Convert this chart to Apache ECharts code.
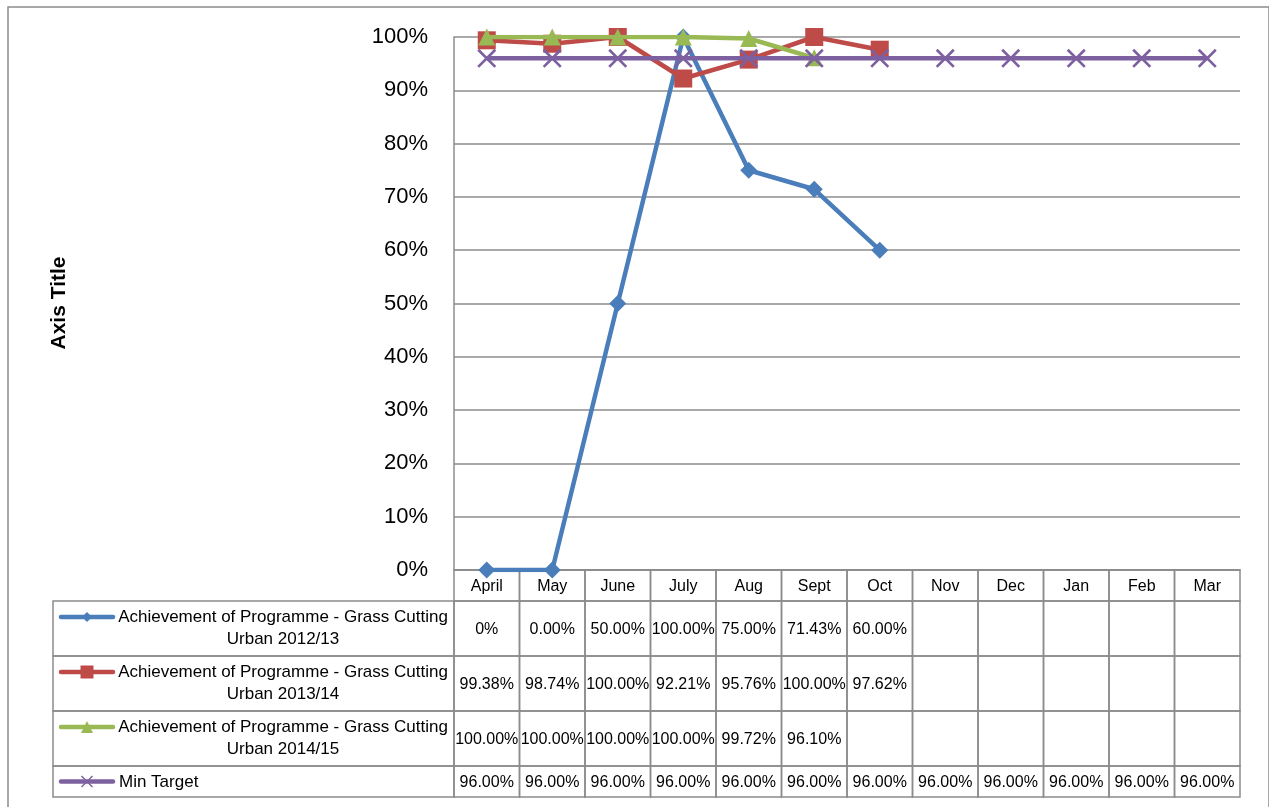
<!DOCTYPE html>
<html>
<head>
<meta charset="utf-8">
<script src="https://cdn.jsdelivr.net/npm/echarts@6/dist/echarts.min.js"></script>
<style>
  html, body { margin: 0; padding: 0; background: #fff; }
  #chart { width: 1269px; height: 807px; }
</style>
</head>
<body>
<div id="chart"></div>
<script>
// 月份
const months = ['April', 'May', 'June', 'July', 'Aug', 'Sept', 'Oct', 'Nov', 'Dec', 'Jan', 'Feb', 'Mar'];
// 各年度达成率
const urban1213 = [0, 0, 0.5, 1, 0.75, 0.7143, 0.6, null, null, null, null, null];
const urban1314 = [0.9938, 0.9874, 1, 0.9221, 0.9576, 1, 0.9762, null, null, null, null, null];
const urban1415 = [1, 1, 1, 1, 0.9972, 0.961, null, null, null, null, null, null];
const minTarget = [0.96, 0.96, 0.96, 0.96, 0.96, 0.96, 0.96, 0.96, 0.96, 0.96, 0.96, 0.96];
const yTicks = [0, 0.1, 0.2, 0.3, 0.4, 0.5, 0.6, 0.7, 0.8, 0.9, 1];

const seriesNames = [
    'Achievement of Programme - Grass Cutting\nUrban 2012/13',
    'Achievement of Programme - Grass Cutting\nUrban 2013/14',
    'Achievement of Programme - Grass Cutting\nUrban 2014/15',
    'Min Target'
];
const seriesData = [urban1213, urban1314, urban1415, minTarget];
const colors = ['#4A7EBB', '#BE4B48', '#98B954', '#7D60A0'];
const crossPath = 'path://M0,1L1,0L10,9L9,10ZM9,0L10,1L1,10L0,9Z';
const symbols = ['diamond', 'rect', 'triangle', crossPath];
const symbolSizes = [17, 18, 17, 19];

const FONT = 'Liberation Sans';
const GRID_L = 454, GRID_R = 1240, GRID_T = 37, GRID_B = 570;
const cellW = (GRID_R - GRID_L) / months.length;
const rowTops = [601, 656, 711, 766];
const rowHeights = [55, 55, 55, 31];
const LEG_L = 53;
const lineGray = '#8c8c8c';

// 表格里的文字格式，第一格原图就是 0%
function fmt(v, s, i) {
    if (v === null || v === undefined) return '';
    if (s === 0 && i === 0) return (v * 100).toFixed(0) + '%';
    return (v * 100).toFixed(2) + '%';
}

const graphics = [];
// 外框
graphics.push({
    type: 'rect', shape: { x: 8, y: 7, width: 1261, height: 820 },
    style: { fill: null, stroke: '#8c8c8c', lineWidth: 1.5 }, silent: true, z: 0
});
// 表头
months.forEach((m, i) => {
    graphics.push({
        type: 'rect', shape: { x: GRID_L + i * cellW, y: GRID_B, width: cellW, height: rowTops[0] - GRID_B },
        style: { fill: null, stroke: lineGray, lineWidth: 1.5 }, silent: true
    });
    graphics.push({
        type: 'text', x: GRID_L + (i + 0.5) * cellW, y: (GRID_B + rowTops[0]) / 2 + 1,
        style: { text: m, fill: '#000', font: '16px ' + FONT, align: 'center', verticalAlign: 'middle' }, silent: true
    });
});
// 数据行
seriesData.forEach((arr, s) => {
    const top = rowTops[s], h = rowHeights[s];
    graphics.push({
        type: 'rect', shape: { x: LEG_L, y: top, width: GRID_L - LEG_L, height: h },
        style: { fill: null, stroke: lineGray, lineWidth: 1.5 }, silent: true
    });
    const iconY = s === 3 ? top + h / 2 : top + 16;
    graphics.push({
        type: 'line', shape: { x1: 61, y1: iconY, x2: 113, y2: iconY },
        style: { stroke: colors[s], lineWidth: 4.5, lineCap: 'round' }, silent: true
    });
    const ms = [10, 13, 12, 11][s];
    if (s === 0) {
        graphics.push({ type: 'polygon', shape: { points: [[87, iconY - ms / 2], [87 + ms / 2, iconY], [87, iconY + ms / 2], [87 - ms / 2, iconY]] }, style: { fill: colors[s] }, silent: true });
    } else if (s === 1) {
        graphics.push({ type: 'rect', shape: { x: 87 - ms / 2, y: iconY - ms / 2, width: ms, height: ms }, style: { fill: colors[s] }, silent: true });
    } else if (s === 2) {
        graphics.push({ type: 'polygon', shape: { points: [[87, iconY - ms / 2], [87 + ms / 2, iconY + ms / 2], [87 - ms / 2, iconY + ms / 2]] }, style: { fill: colors[s] }, silent: true });
    } else {
        graphics.push({ type: 'polyline', shape: { points: [[87 - ms / 2, iconY - ms / 2], [87 + ms / 2, iconY + ms / 2]] }, style: { stroke: colors[s], lineWidth: 1.5 }, silent: true });
        graphics.push({ type: 'polyline', shape: { points: [[87 + ms / 2, iconY - ms / 2], [87 - ms / 2, iconY + ms / 2]] }, style: { stroke: colors[s], lineWidth: 1.5 }, silent: true });
    }
    if (s === 3) {
        graphics.push({
            type: 'text', x: 119, y: top + h / 2 + 1,
            style: { text: seriesNames[s], fill: '#000', font: '17px ' + FONT, align: 'left', verticalAlign: 'middle' }, silent: true
        });
    } else {
        graphics.push({
            type: 'text', x: 283, y: top + h / 2,
            style: { text: seriesNames[s], fill: '#000', font: '17px ' + FONT, align: 'center', verticalAlign: 'middle', lineHeight: 22 }, silent: true
        });
    }
    arr.forEach((v, i) => {
        graphics.push({
            type: 'rect', shape: { x: GRID_L + i * cellW, y: top, width: cellW, height: h },
            style: { fill: null, stroke: lineGray, lineWidth: 1.5 }, silent: true
        });
        graphics.push({
            type: 'text', x: GRID_L + (i + 0.5) * cellW, y: top + h / 2 + 1,
            style: { text: fmt(v, s, i), fill: '#000', font: '16px ' + FONT, align: 'center', verticalAlign: 'middle' }, silent: true
        });
    });
});
// 纵轴标题
graphics.push({
    type: 'text', x: 59, y: 303, rotation: Math.PI / 2,
    style: { text: 'Axis Title', fill: '#000', font: 'bold 21px ' + FONT, align: 'center', verticalAlign: 'middle' }, silent: true
});

const myChart = echarts.init(document.getElementById('chart'));
const option = {
    animation: false,
    grid: { left: GRID_L, right: 1269 - GRID_R, top: GRID_T, bottom: 807 - GRID_B },
    xAxis: {
        type: 'category',
        data: months,
        boundaryGap: true,
        axisLine: { show: true, lineStyle: { color: lineGray, width: 1.5 } },
        axisTick: { show: false },
        axisLabel: { show: false }
    },
    yAxis: {
        type: 'value',
        min: yTicks[0],
        max: yTicks[yTicks.length - 1],
        interval: 0.1,
        axisLine: { show: true, lineStyle: { color: lineGray, width: 1.5 } },
        axisTick: { show: false },
        splitLine: { lineStyle: { color: lineGray, width: 1.5 } },
        axisLabel: {
            color: '#000', fontSize: 22, fontFamily: FONT, margin: 26,
            formatter: (v) => Math.round(v * 100) + '%'
        }
    },
    series: seriesData.map((arr, s) => ({
        name: seriesNames[s],
        type: 'line',
        data: arr,
        symbol: symbols[s],
        symbolSize: symbolSizes[s],
        showAllSymbol: true,
        connectNulls: false,
        lineStyle: { color: colors[s], width: 4.5 },
        itemStyle: { color: colors[s] },
        z: 2 + s
    })),
    graphic: graphics
};
myChart.setOption(option);
</script>
</body>
</html>
